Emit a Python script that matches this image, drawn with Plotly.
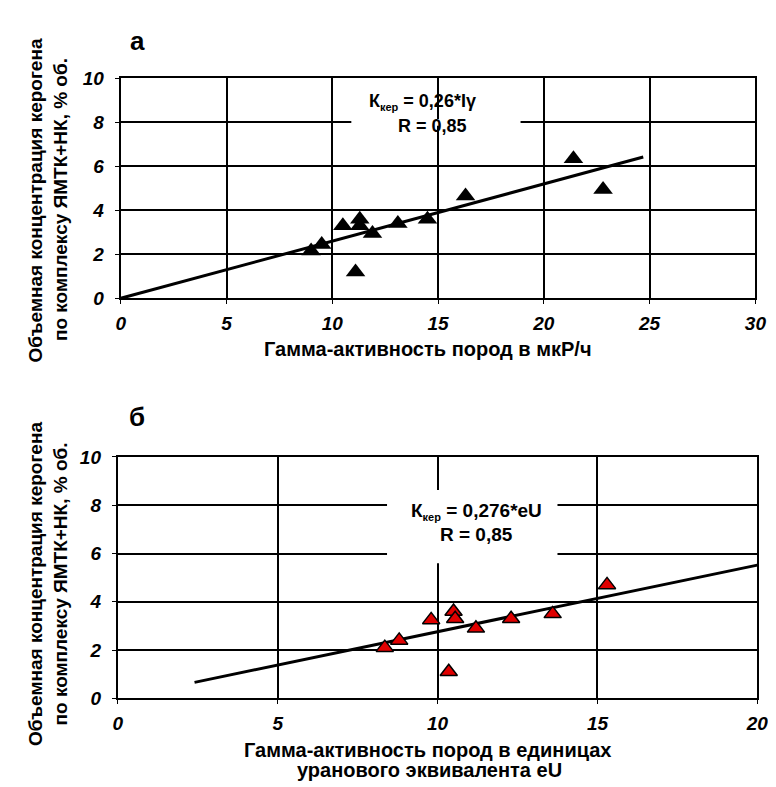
import plotly.graph_objects as go

# Panel a data
gamma_a = [9.0, 9.5, 10.5, 11.3, 11.3, 11.9, 11.1, 13.1, 14.5, 16.3, 21.4, 22.8]
kker_a = [2.15, 2.45, 3.3, 3.6, 3.3, 2.95, 1.2, 3.4, 3.6, 4.65, 6.35, 4.95]
fit_a_x = [0.0, 24.7]
coef_a = 0.26

# Panel b data
eu_b = [8.35, 8.8, 9.8, 10.5, 10.55, 10.35, 11.2, 12.3, 13.6, 15.3]
kker_b = [2.1, 2.4, 3.25, 3.6, 3.3, 1.1, 2.9, 3.3, 3.5, 4.7]
fit_b_x = [2.4, 20.0]
coef_b = 0.276

y_ticks = [0, 2, 4, 6, 8, 10]
x_ticks_a = [0, 5, 10, 15, 20, 25, 30]
x_ticks_b = [0, 5, 10, 15, 20]

FONT = "Liberation Sans"
W, H = 776, 787

def px(x):
    return x / W

def py(y):
    return 1 - y / H

fig = go.Figure()

fig.add_trace(go.Scatter(x=fit_a_x, y=[coef_a * v for v in fit_a_x], mode="lines",
                         line=dict(color="black", width=3), xaxis="x", yaxis="y", showlegend=False))
fig.add_trace(go.Scatter(x=gamma_a, y=kker_a, mode="markers",
                         marker=dict(symbol="triangle-up", size=17, color="black",
                                     line=dict(color="black", width=0)),
                         xaxis="x", yaxis="y", showlegend=False))

fig.add_trace(go.Scatter(x=fit_b_x, y=[coef_b * v for v in fit_b_x], mode="lines",
                         line=dict(color="black", width=3), xaxis="x2", yaxis="y2", showlegend=False))
fig.add_trace(go.Scatter(x=eu_b, y=kker_b, mode="markers",
                         marker=dict(symbol="triangle-up", size=15, color="#e00000",
                                     line=dict(color="black", width=1.5)),
                         xaxis="x2", yaxis="y2", showlegend=False))

tickfont = dict(family=FONT, size=19, color="black", weight="bold", style="italic")

def xax(dom, anchor, ticks, rng):
    return dict(domain=dom, anchor=anchor, range=rng, tickvals=ticks, ticktext=[str(t) for t in ticks],
                showgrid=True, gridcolor="black", gridwidth=1.5, zeroline=False,
                showline=True, linecolor="black", linewidth=2, mirror=True,
                ticks="outside", ticklen=4, tickcolor="black", tickfont=tickfont,
                ticklabelstandoff=3, fixedrange=True)

def yax(dom, anchor, rng):
    return dict(domain=dom, anchor=anchor, range=rng, tickvals=y_ticks, ticktext=[str(t) for t in y_ticks],
                showgrid=True, gridcolor="black", gridwidth=1.5, zeroline=False,
                showline=True, linecolor="black", linewidth=2, mirror=True,
                ticks="outside", ticklen=4, tickcolor="black", tickfont=tickfont,
                ticklabelstandoff=7, fixedrange=True)

xa_dom = [px(110), px(758)]
ya_dom = [py(288), py(62)]
xb_dom = [px(107), px(760)]
yb_dom = [py(699), py(451)]

fig.update_layout(
    width=W, height=H, margin=dict(l=0, r=0, t=0, b=0),
    paper_bgcolor="white", plot_bgcolor="white",
    xaxis=xax(xa_dom, "y", x_ticks_a, [0, 30]),
    yaxis=yax(ya_dom, "x", [0, 10]),
    xaxis2=xax(xb_dom, "y2", x_ticks_b, [0, 20]),
    yaxis2=yax(yb_dom, "x2", [0, 10]),
)

# white patches behind equation text (cover gridlines only)
fig.add_shape(type="rect", xref="x", yref="y", x0=10.9, x1=18.9, y0=7.85, y1=8.15,
              fillcolor="white", line=dict(width=0), layer="between")
fig.add_shape(type="rect", xref="x2", yref="y2", x0=8.42, x1=13.75, y0=5.6, y1=8.63,
              fillcolor="white", line=dict(width=0), layer="between")

bold = dict(family=FONT, color="black", weight="bold")

def ann(x, y, text, size, angle=0):
    fig.add_annotation(x=px(x), y=py(y), xref="paper", yref="paper", text=text,
                       showarrow=False, textangle=angle, xanchor="center", yanchor="middle",
                       font=dict(size=size, **bold))

SUB = "<sub><span style='font-size:11px'>кер</span></sub>"

ann(127, 24, "а", 26)
ann(127, 410, "б", 26)

ann(418, 86, "К" + SUB + " = 0,26*Iγ", 18)
ann(428, 111, "R = 0,85", 18)
ann(473, 507, "К" + SUB + " = 0,276*eU", 19)
ann(473, 531, "R = 0,85", 19)

ann(424, 340, "Гамма-активность пород в мкР/ч", 20)
ann(423, 752, "Гамма-активность пород в единицах", 20)
ann(425, 773, "уранового эквивалента eU", 20)

ann(23, 188, "Объемная концентрация керогена", 19, angle=-90)
ann(48, 187, "по комплексу ЯМТК+НК, % об.", 19, angle=-90)
ann(23, 582, "Объемная концентрация керогена", 19, angle=-90)
ann(48, 582, "по комплексу ЯМТК+НК, % об.", 19, angle=-90)

fig.write_html("out.html")
